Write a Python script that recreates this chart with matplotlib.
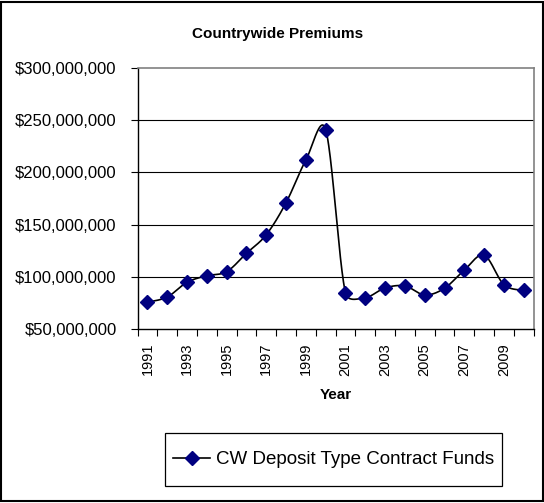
import numpy as np
import matplotlib
matplotlib.use("Agg")
import matplotlib.pyplot as plt
from matplotlib.patches import Rectangle
from matplotlib.ticker import FuncFormatter

years = list(range(1991, 2011))
premiums = [75.6, 80.6, 94.7, 101.0, 104.9, 122.5, 140.3, 171.0, 211.9, 240.9,
            84.5, 80.0, 89.3, 91.2, 82.6, 89.0, 106.5, 120.6, 92.4, 87.0]  # $ millions
premiums = [v * 1e6 for v in premiums]
year_labels = [str(y) if (y - 1991) % 2 == 0 else "" for y in years]
yticks = [50e6, 100e6, 150e6, 200e6, 250e6, 300e6]
title = "Countrywide Premiums"
xlabel = "Year"
series_name = "CW Deposit Type Contract Funds"

plt.rcParams['font.family'] = ['Liberation Sans', 'DejaVu Sans']

W, H = 544, 503
fig = plt.figure(figsize=(W / 100, H / 100), dpi=100)
ax = fig.add_axes([0.2528, 0.346, 0.7282, 0.5188])

x = np.arange(len(years), dtype=float)
y = np.array(premiums)

ax.set_xlim(-0.5, len(years) - 0.5)
ax.set_ylim(50e6, 300e6)

# Excel-style smoothing (Bezier, tension 1/6, computed in screen space)
P = ax.transData.transform(np.column_stack([x, y]))
Pe = np.vstack([P[0], P, P[-1]])
curve = []
t = np.linspace(0, 1, 40)[:, None]
for i in range(len(P) - 1):
    p0, p1, p2, p3 = Pe[i], Pe[i + 1], Pe[i + 2], Pe[i + 3]
    d12 = np.hypot(*(p2 - p1))
    T1 = (p2 - p0) / 6
    T2 = (p3 - p1) / 6
    for T in (T1, T2):
        n = np.hypot(*T)
        if n > d12 / 2:
            T *= (d12 / 2) / n
    c1 = p1 + T1
    c2 = p2 - T2
    seg = ((1 - t) ** 3) * p1 + 3 * ((1 - t) ** 2) * t * c1 + 3 * (1 - t) * t ** 2 * c2 + t ** 3 * p2
    curve.append(seg)
curve = ax.transData.inverted().transform(np.vstack(curve))

ax.plot(curve[:, 0], curve[:, 1], color='black', lw=1.2, zorder=3)
ax.plot(x, y, linestyle='none', marker='D', markersize=7.5, color='#000080',
        markeredgecolor='#000080', zorder=4)
# legend proxy
ax.plot([], [], color='black', lw=1.2, marker='D', markersize=7.5,
        markerfacecolor='#000080', markeredgecolor='#000080', label=series_name)

ax.set_xlim(-0.5, len(years) - 0.5)
ax.set_ylim(50e6, 300e6)
ax.set_yticks(yticks)
ax.yaxis.set_major_formatter(FuncFormatter(lambda v, p: "${:,.0f}".format(v)))
for v in yticks[1:-1]:
    ax.axhline(v, color='black', lw=0.8, zorder=1)

ax.set_xticks(np.arange(-0.5, len(years), 1.0))
ax.set_xticklabels([])
ax.set_xticks(x, minor=True)
ax.set_xticklabels(year_labels, minor=True, rotation=90, fontsize=10.5)
ax.tick_params(axis='x', which='minor', length=0, pad=10)
ax.tick_params(axis='x', which='major', direction='out', length=5, width=0.8)
ax.tick_params(axis='y', direction='out', length=5, width=0.8, labelsize=12, pad=10)

for s in ['top', 'right']:
    ax.spines[s].set_color('#808080')
    ax.spines[s].set_linewidth(1.2)
for s in ['left', 'bottom']:
    ax.spines[s].set_color('black')
    ax.spines[s].set_linewidth(1.0)

ax.set_xlabel(xlabel, fontsize=11, fontweight='bold', labelpad=9)
fig.text(0.51, 0.932, title, fontsize=11, fontweight='bold', ha='center', va='center')

# legend box (Excel-style frame)
lx0, lx1, ly0, ly1 = 165, 502, 433, 486
fig.patches.append(Rectangle((lx0 / W, 1 - ly1 / H), (lx1 - lx0) / W, (ly1 - ly0) / H,
                             transform=fig.transFigure, fill=True, facecolor='white',
                             edgecolor='black', lw=0.9))
leg = fig.legend(loc='center', bbox_to_anchor=((lx0 + lx1) / 2 / W, 1 - (ly0 + ly1) / 2 / H),
                 fontsize=13.5, frameon=False, borderpad=0.0, handlelength=2.0,
                 handletextpad=0.3)

fig.patches.append(Rectangle((0.002, 0.003), 0.996, 0.994, transform=fig.transFigure,
                             fill=False, edgecolor='black', lw=1.5))

fig.savefig("out.png", dpi=100)
